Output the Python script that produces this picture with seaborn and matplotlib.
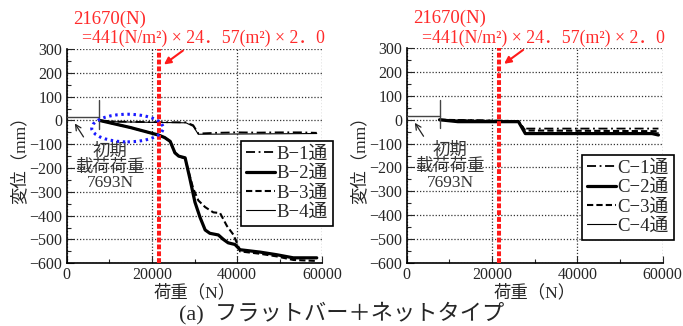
import numpy as np
import pandas as pd
import seaborn as sns
import matplotlib.pyplot as plt
from matplotlib.patches import Ellipse

# load (N) / displacement (mm)
b1_load = [7693, 12000, 20000, 28000, 29700, 30900, 35000, 40000, 45000, 50000, 55000, 58700]
b1_disp = [0, -5, -7, -8, -20, -55, -52, -50, -51, -50, -50, -52]
b2_load = [7693, 15000, 21670, 23000, 24300, 25400, 26300, 27800, 28900, 30100, 31300,
           32500, 33600, 35600, 36800, 37900, 39500, 40700, 45400, 49300, 53200, 58700]
b2_disp = [0, -30, -62, -72, -88, -136, -150, -157, -243, -343, -407,
           -460, -474, -481, -500, -514, -521, -543, -553, -564, -577, -577]
b3_load = [7693, 15000, 21670, 23000, 24300, 25400, 26300, 27800, 28600, 29700, 30900,
           32500, 34400, 36000, 37600, 39100, 40100, 40700, 45400, 49300, 53200, 58700]
b3_disp = [0, -30, -62, -72, -88, -136, -150, -160, -214, -286, -336,
           -364, -386, -389, -443, -479, -521, -550, -560, -571, -586, -590]
b4_load = [7693, 12000, 20000, 28000, 29700, 30900, 40000, 50000, 58700]
b4_disp = [0, -6, -8, -10, -25, -58, -57, -56, -55]

c1_load = [7693, 26000, 27500, 59000]
c1_disp = [0, -5, -37, -37]
c2_load = [7693, 12000, 26200, 27800, 57500, 59000]
c2_disp = [0, -8, -8, -58, -58, -64]
c3_load = [7693, 26200, 27800, 59000]
c3_disp = [0, -6, -45, -48]
c4_load = [7693, 26200, 27800, 59000]
c4_disp = [0, -5, -55, -55]

b_labels = ['B−1通', 'B−2通', 'B−3通', 'B−4通']
c_labels = ['C−1通', 'C−2通', 'C−3通', 'C−4通']

initial_load = 7693
design_load = 21670
x_ticks = [0, 20000, 40000, 60000]
y_ticks = [-600, -500, -400, -300, -200, -100, 0, 100, 200, 300]

# line styles for the four channels (dash-dot, thick, dashed, thin)
styles = [dict(linestyle=(0, (5, 2, 1, 2)), linewidth=1.3),
          dict(linestyle='-', linewidth=2.3),
          dict(linestyle=(0, (3, 1.5)), linewidth=1.5),
          dict(linestyle='-', linewidth=0.8)]

sns.set_style('ticks')
plt.rcParams['font.family'] = ['Liberation Serif', 'Noto Sans CJK JP']
plt.rcParams['axes.unicode_minus'] = True

W, H = 683, 326
fig = plt.figure(figsize=(W / 100, H / 100), dpi=100)
ax1 = fig.add_axes([66.7 / W, 1 - 263.3 / H, 255.6 / W, 214.3 / H])
ax2 = fig.add_axes([406.7 / W, 1 - 262.7 / H, 256 / W, 214.4 / H])


def draw_panel(ax, loads, disps, labels, leg_xy):
    for ld, dp, lab, st in zip(loads, disps, labels, styles):
        df = pd.DataFrame({'load': ld, 'disp': dp})
        sns.lineplot(data=df, x='load', y='disp', ax=ax, color='black', label=lab,
                     estimator=None, sort=False, zorder=3, **st)
    ax.set_xlim(0, 60000)
    ax.set_ylim(-600, 300)
    ax.set_xticks(x_ticks)
    ax.set_yticks(y_ticks)
    ax.set_xticks(np.arange(10000, 60000, 20000), minor=True)
    ax.set_yticks(np.arange(-550, 300, 100), minor=True)
    ax.tick_params(direction='in', which='major', length=5, width=0.8, labelsize=11.5, pad=3)
    ax.tick_params(direction='in', which='minor', length=3, width=0.8)
    ax.grid(True, which='major', color='#333333', linestyle=(0, (1, 1.5)), linewidth=0.9)
    for s in ['top', 'right']:
        ax.spines[s].set_visible(False)
    for s in ['left', 'bottom']:
        ax.spines[s].set_linewidth(1.2)
        ax.spines[s].set_color('black')
    ax.set_xlabel('荷重（N）', fontsize=12.5, labelpad=1)
    ax.set_ylabel('変位（mm）', fontsize=12.5, labelpad=1)

    # design load line and note
    ax.axvline(design_load, color='#ff1a1a', linewidth=2.9, linestyle=(0, (1.2, 0.5)), zorder=4)
    ax.text(1480, 424, '21670(N)', color='#ff2a2a', fontsize=13.5, va='center', ha='left')
    ax.text(3600, 343, '=441(N/m²) × 24．57(m²) × 2．0', color='#ff2a2a', fontsize=12.8,
            va='center', ha='left')
    ax.annotate('', xy=(22300, 228), xytext=(27800, 300),
                arrowprops=dict(arrowstyle='-|>', color='#ff1a1a', lw=1.5, mutation_scale=10),
                annotation_clip=False)

    # initial load marker
    ax.plot([0, initial_load], [14, 14], color='#444444', linewidth=1, zorder=3)
    ax.plot([initial_load, initial_load], [85, -35], color='#444444', linewidth=1, zorder=3)
    ax.annotate('', xy=(1560, -3), xytext=(4300, -79),
                arrowprops=dict(arrowstyle='->', color='#222222', lw=0.9))
    ax.text(10160, -197, '初期\n載荷荷重\n7693N', ha='center', va='center', fontsize=12.5,
            color='#333333', linespacing=1.0)

    leg = ax.legend(loc='upper left', bbox_to_anchor=(leg_xy[0] / W, 1 - leg_xy[1] / H),
                    bbox_transform=fig.transFigure, frameon=True, fancybox=False,
                    edgecolor='black', framealpha=1, fontsize=13.5, handlelength=1.55,
                    handletextpad=0.1, labelspacing=0.12, borderpad=0.25, borderaxespad=0)
    leg.get_frame().set_linewidth(1.2)
    return leg


draw_panel(ax1, [b1_load, b2_load, b3_load, b4_load],
           [b1_disp, b2_disp, b3_disp, b4_disp], b_labels, (241, 141))
draw_panel(ax2, [c1_load, c2_load, c3_load, c4_load],
           [c1_disp, c2_disp, c3_disp, c4_disp], c_labels, (582, 155))

# blue dotted ellipse on the left panel
ax1.add_patch(Ellipse((14270, -32), 16800, 116, fill=False, edgecolor='#1a1aff',
                      linewidth=2.2, linestyle=(0, (0.8, 1.2)), zorder=5))

fig.text(0.5, 1 - 313 / H, '(a)  フラットバー＋ネットタイプ', ha='center', va='center',
         fontsize=16)

fig.savefig('out.png', dpi=100)
